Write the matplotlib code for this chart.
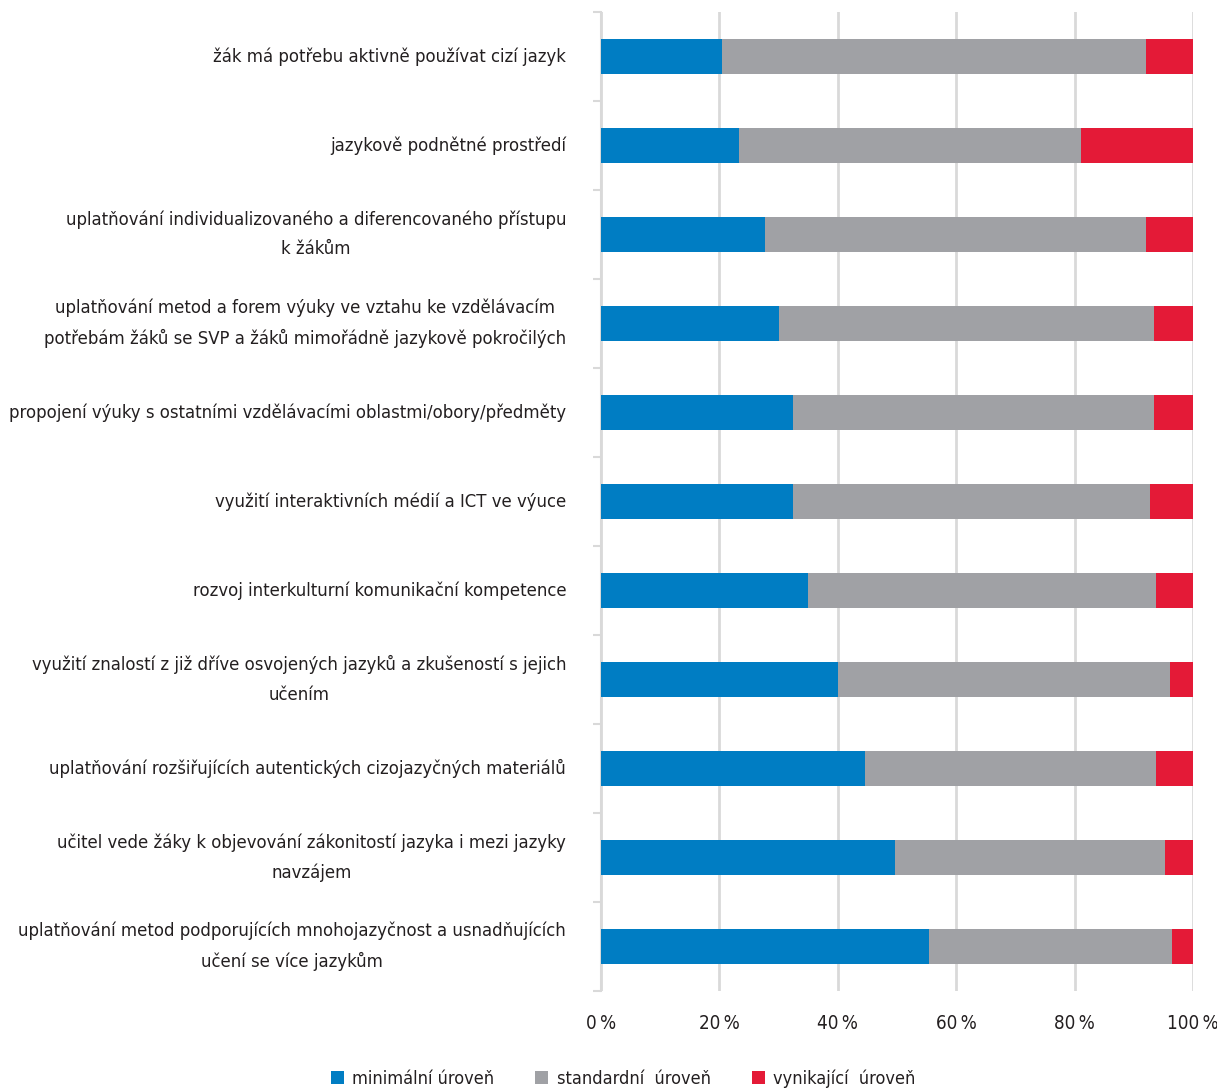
import matplotlib.pyplot as plt
import numpy as np
from matplotlib.ticker import FuncFormatter

plt.rcParams['font.family'] = ['DejaVu Sans']
plt.rcParams['font.stretch'] = 'condensed'

categories = [
    'žák má potřebu aktivně používat cizí jazyk',
    'jazykově podnětné prostředí',
    'uplatňování individualizovaného a diferencovaného přístupu\nk žákům',
    'uplatňování metod a forem výuky ve vztahu ke vzdělávacím\npotřebám žáků se SVP a žáků mimořádně jazykově pokročilých',
    'propojení výuky s ostatními vzdělávacími oblastmi/obory/předměty',
    'využití interaktivních médií a ICT ve výuce',
    'rozvoj interkulturní komunikační kompetence',
    'využití znalostí z již dříve osvojených jazyků a zkušeností s jejich\nučením',
    'uplatňování rozšiřujících autentických cizojazyčných materiálů',
    'učitel vede žáky k objevování zákonitostí jazyka i mezi jazyky\nnavzájem',
    'uplatňování metod podporujících mnohojazyčnost a usnadňujících\nučení se více jazykům',
]

minimalni = [20.5, 23.3, 27.7, 30.1, 32.5, 32.5, 34.9, 40.1, 44.6, 49.6, 55.4]
standardni = [71.5, 57.8, 64.4, 63.3, 60.9, 60.2, 58.8, 56.0, 49.2, 45.7, 41.0]
vynikajici = [100 - a - b for a, b in zip(minimalni, standardni)]

series = [
    ('minimální úroveň', minimalni, '#007DC3'),
    ('standardní  úroveň', standardni, '#A0A1A5'),
    ('vynikající  úroveň', vynikajici, '#E41A37'),
]

fig = plt.figure(figsize=(12.17, 10.9), dpi=100)
ax = fig.add_axes([0.4938, 0.091, 0.4865, 0.898])

y = np.arange(len(categories))
left = np.zeros(len(categories))
for name, vals, col in series:
    ax.barh(y, vals, left=left, height=0.4, color=col, label=name, zorder=3)
    left += np.array(vals)

ax.set_xlim(0, 100)
ax.set_ylim(len(categories) - 0.5, -0.5)
ax.set_xticks([0, 20, 40, 60, 80, 100])
ax.xaxis.set_major_formatter(FuncFormatter(lambda v, p: f'{v:.0f}\u2009%'))
ax.grid(axis='x', color='#D9D9D9', linewidth=2, zorder=0)

ax.set_yticks(y)
ax.set_yticklabels(categories, multialignment='center', linespacing=1.8, va='center')
ax.set_yticks(np.arange(-0.5, len(categories) + 0.5, 1), minor=True)
ax.tick_params(axis='y', which='major', length=0, pad=25, labelsize=13.2, colors='#231F20')
ax.tick_params(axis='y', which='minor', length=6, width=1.5, color='#D9D9D9')
ax.tick_params(axis='x', length=0, pad=17, labelsize=13.5, colors='#231F20')

for s in ['top', 'right', 'bottom']:
    ax.spines[s].set_visible(False)
ax.spines['left'].set_color('#D9D9D9')
ax.spines['left'].set_linewidth(1.5)

fig.legend(loc='lower center', bbox_to_anchor=(0.512, -0.013), ncol=3, frameon=False,
           fontsize=13, handlelength=0.72, handleheight=0.72, handletextpad=0.45,
           columnspacing=2.3, labelcolor='#231F20')

fig.savefig('out.png', dpi=100)
